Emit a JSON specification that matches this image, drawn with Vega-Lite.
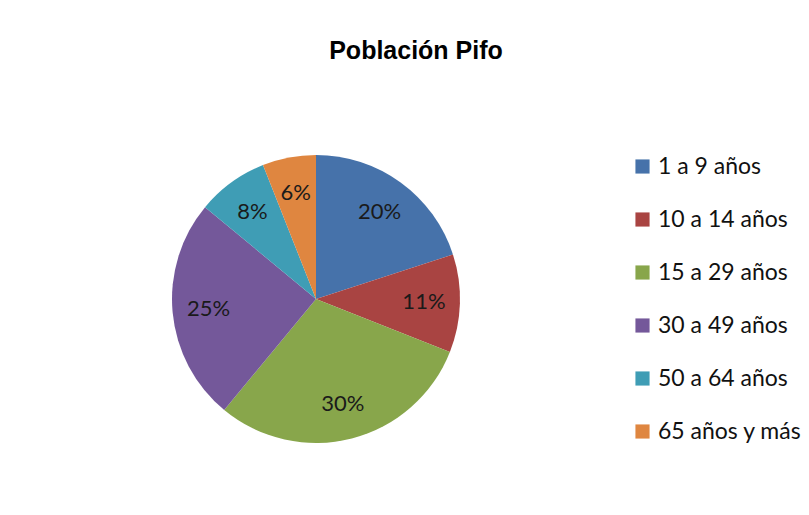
{
  "$schema": "https://vega.github.io/schema/vega-lite/v6.json",
  "width": 616,
  "height": 288,
  "padding": {"left": 8, "top": 39, "right": 0, "bottom": 0},
  "background": "white",
  "title": {
    "text": "Población Pifo",
    "font": "Liberation Sans",
    "fontSize": 25,
    "fontWeight": "bold",
    "color": "#000000",
    "offset": 91,
    "anchor": "middle",
    "dx": 100
  },
  "data": {
    "values": [
      {"grupo": "1 a 9 años", "orden": 1, "porcentaje": 20, "etiqueta": "20%"},
      {"grupo": "10 a 14 años", "orden": 2, "porcentaje": 11, "etiqueta": "11%"},
      {"grupo": "15 a 29 años", "orden": 3, "porcentaje": 30, "etiqueta": "30%"},
      {"grupo": "30 a 49 años", "orden": 4, "porcentaje": 25, "etiqueta": "25%"},
      {"grupo": "50 a 64 años", "orden": 5, "porcentaje": 8, "etiqueta": "8%"},
      {"grupo": "65 años y más", "orden": 6, "porcentaje": 6, "etiqueta": "6%"}
    ]
  },
  "encoding": {
    "theta": {"field": "porcentaje", "type": "quantitative", "stack": true},
    "order": {"field": "orden", "type": "quantitative"},
    "color": {
      "field": "grupo",
      "type": "nominal",
      "sort": ["1 a 9 años", "10 a 14 años", "15 a 29 años", "30 a 49 años", "50 a 64 años", "65 años y más"],
      "scale": {
        "domain": ["1 a 9 años", "10 a 14 años", "15 a 29 años", "30 a 49 años", "50 a 64 años", "65 años y más"],
        "range": ["#4672aa", "#a94442", "#88a64b", "#74589a", "#3f9db5", "#df8640"]
      },
      "legend": {
        "title": null,
        "orient": "right",
        "offset": 7,
        "padding": 0,
        "symbolType": "square",
        "symbolSize": 200,
        "symbolStrokeWidth": 0,
        "symbolOpacity": 1,
        "labelFont": "Lato",
        "labelFontSize": 23,
        "labelColor": "#111111",
        "labelOffset": 4,
        "rowPadding": 29
      }
    }
  },
  "layer": [
    {
      "mark": {"type": "arc", "outerRadius": 144, "stroke": null}
    },
    {
      "mark": {"type": "text", "radius": 108, "font": "Lato", "fontSize": 22, "color": "#1a1a1a"},
      "encoding": {
        "text": {"field": "etiqueta", "type": "nominal"},
        "color": {"value": "#1a1a1a"}
      }
    }
  ],
  "config": {
    "view": {"stroke": null}
  }
}
